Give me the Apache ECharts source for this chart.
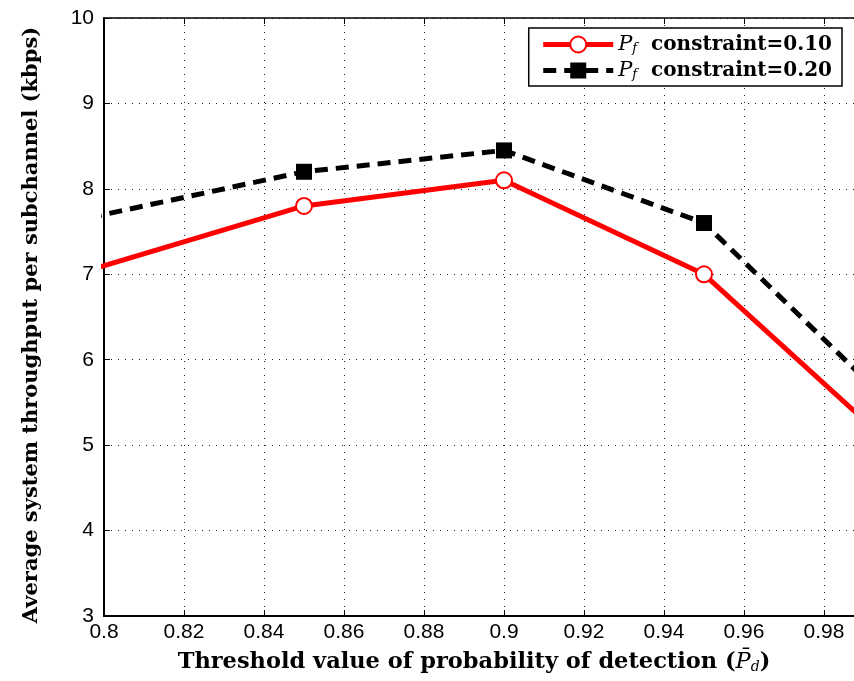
<!DOCTYPE html>
<html><head><meta charset="utf-8">
<script src="https://cdn.jsdelivr.net/npm/echarts@6/dist/echarts.min.js"></script>
<style>html,body{margin:0;padding:0;background:#fff}#c{width:854px;height:681px}</style>
</head><body><div id="c"></div>
<script>
// Data (first and last points lie outside the visible x range)
const xValues = [0.75, 0.85, 0.9, 0.95, 1.0];
const redValues = [6.4, 7.8, 8.1, 7.0, 4.87];     // Pf constraint = 0.10
const blackValues = [7.2, 8.2, 8.45, 7.6, 5.33];  // Pf constraint = 0.20
const seriesNames = ['Pf constraint=0.10', 'Pf constraint=0.20'];
const xTickLabels = ['0.8','0.82','0.84','0.86','0.88','0.9','0.92','0.94','0.96','0.98'];
const yTickLabels = ['3','4','5','6','7','8','9','10'];

const pair = (xs, ys) => xs.map((x, i) => [x, ys[i]]);
const chart = echarts.init(document.getElementById('c'), null, {renderer: 'canvas'});
const tickFont = {fontFamily: 'Liberation Sans', fontSize: 21, color: '#000'};
const titleFont = 'DejaVu Serif';
const dotted = {color: '#222', width: 1, type: [1, 6]};

chart.setOption({
  animation: false,
  backgroundColor: '#fff',
  grid: {left: 104, right: -2, top: 18, bottom: 65, show: false},
  legend: {
    right: 12, top: 28,
    orient: 'vertical',
    backgroundColor: '#fff',
    borderColor: '#000', borderWidth: 1.5, borderRadius: 0,
    padding: [6, 10, 5, 12],
    itemWidth: 70, itemHeight: 20, itemGap: 5,
    lineStyle: {width: 5},
    formatter: function (name) {
      return '{p|P}{s|f}{t|  ' + name.slice(3) + '}';
    },
    textStyle: {
      rich: {
        p: {fontFamily: titleFont, fontStyle: 'italic', fontSize: 21, color: '#000'},
        s: {fontFamily: titleFont, fontStyle: 'italic', fontSize: 13, color: '#000', verticalAlign: 'bottom', padding: [8,0,0,0]},
        t: {fontFamily: titleFont, fontWeight: 'bold', fontSize: 20, color: '#000'}
      }
    },
    data: seriesNames
  },
  xAxis: [{
    type: 'value', min: 0.8, max: 0.9875, interval: 0.02,
    position: 'bottom',
    axisLine: {show: true, lineStyle: {color: '#000', width: 2}},
    axisTick: {show: true, inside: true, length: 6, lineStyle: {color: '#000'}},
    axisLabel: Object.assign({margin: 6, showMaxLabel: false,
      formatter: function (v) { const i = Math.round((v - 0.8) / 0.02); return (Math.abs(v - (0.8 + i*0.02)) < 1e-6 && xTickLabels[i]) ? xTickLabels[i] : ''; }}, tickFont),
    splitLine: {show: true, lineStyle: dotted},
    name: '{t|Threshold value of probability of detection (}{p|P\u0304}{s|d}{t|)}',
    nameLocation: 'middle', nameGap: 35,
    nameTextStyle: {
      padding: [0, 10, 0, 0],
      rich: {
        t: {fontFamily: titleFont, fontWeight: 'bold', fontSize: 22.5, color: '#000'},
        p: {fontFamily: titleFont, fontStyle: 'italic', fontSize: 22.5, color: '#000'},
        s: {fontFamily: titleFont, fontStyle: 'italic', fontSize: 14, color: '#000', verticalAlign: 'bottom', padding: [9,0,0,0]}
      }
    }
  }, {
    type: 'value', min: 0.8, max: 0.9875, interval: 0.02,
    position: 'top',
    axisLine: {show: true, lineStyle: {color: '#000', width: 1.5}},
    axisTick: {show: true, inside: true, length: 6, lineStyle: {color: '#000'}},
    axisLabel: {show: false}, splitLine: {show: false}
  }],
  yAxis: {
    type: 'value', min: 3, max: 10, interval: 1,
    axisLine: {show: true, lineStyle: {color: '#000', width: 2}},
    axisTick: {show: true, inside: true, length: 6, lineStyle: {color: '#000'}},
    axisLabel: Object.assign({margin: 10, formatter: function (v) { return yTickLabels[Math.round(v - 3)]; }}, tickFont),
    splitLine: {show: true, lineStyle: dotted},
    name: 'Average system throughput per subchannel (kbps)',
    nameLocation: 'middle', nameGap: 62,
    nameTextStyle: {fontFamily: titleFont, fontWeight: 'bold', fontSize: 21, color: '#000', padding: [0, 16, 0, 0]}
  },
  series: [{
    name: seriesNames[0], type: 'line', data: pair(xValues, redValues),
    clip: true, z: 3,
    symbol: 'emptyCircle', symbolSize: 16, showAllSymbol: true,
    lineStyle: {color: '#ff0000', width: 5},
    itemStyle: {color: '#ff0000', borderColor: '#ff0000', borderWidth: 4}
  }, {
    name: seriesNames[1], type: 'line', data: pair(xValues, blackValues),
    clip: true, z: 2,
    symbol: 'rect', symbolSize: 16, showAllSymbol: true,
    lineStyle: {color: '#000', width: 5, type: [13, 8]},
    itemStyle: {color: '#000'}
  }]
});
</script></body></html>
